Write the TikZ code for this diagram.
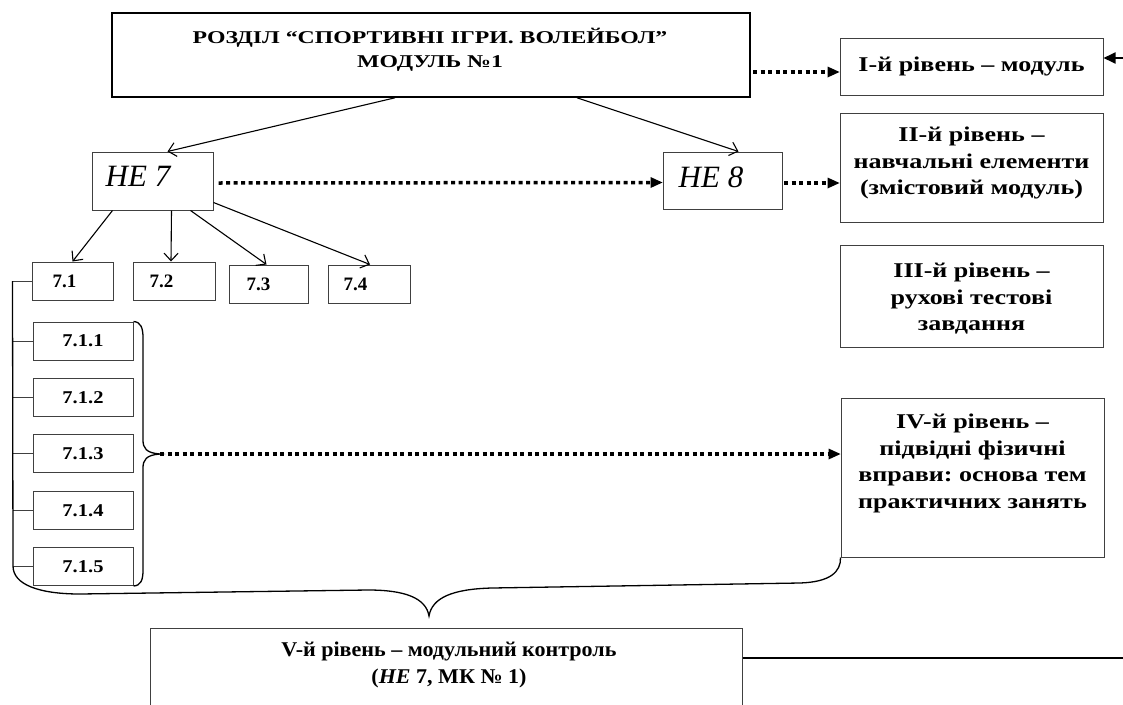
\documentclass[tikz,border=0pt]{standalone}
\usepackage{fontspec}
\setmainfont{Liberation Serif}
\newfontfamily\titlefont[FakeStretch=1.32]{Liberation Serif}
\newfontfamily\lvlfont[FakeStretch=1.24]{Liberation Serif}
\newfontfamily\numfont[FakeStretch=1.14]{Liberation Serif}
\newfontfamily\vfont[FakeStretch=1.05]{Liberation Serif}
\usetikzlibrary{arrows.meta}
\frenchspacing
\begin{document}
\begin{tikzpicture}[x=1pt,y=-1pt,
  box/.style={draw=black!75,line width=1pt,inner sep=0pt,minimum width=#1},
  lvl/.style={box=263,align=center,font=\lvlfont\fontsize{21}{26.5}\selectfont\bfseries},
  lvltxt/.style={align=center,anchor=north,inner sep=0pt,font=\lvlfont\fontsize{21}{26.5}\selectfont\bfseries},
  numbox/.style={box=#1,minimum height=38,font=\numfont\fontsize{18}{20}\selectfont\bfseries},
  numtxt/.style={font=\fontsize{19}{20}\selectfont\bfseries,inner sep=0pt,anchor=west},
  netxt/.style={font=\fontsize{31}{34}\selectfont\itshape,inner sep=0pt,anchor=west},
  dots/.style={line width=3.5pt,dash pattern=on 4pt off 3.5pt,-{Triangle[length=12pt,width=11pt,line width=0pt]}},
  thin/.style={line width=1.1pt,-{Straight Barb[length=7.5pt,width=14pt,line width=1.1pt]}},
]
\useasboundingbox (0,0) rectangle (1123,704);
% top box
\node[draw=black,line width=1.6pt,inner sep=0pt,minimum width=638,minimum height=84] (top) at (431,55) {};
\node[align=center,anchor=north,inner sep=0pt,font=\titlefont\fontsize{18}{23.5}\selectfont\bfseries] (toptxt) at (430,28) {РОЗДІЛ “СПОРТИВНІ ІГРИ. ВОЛЕЙБОЛ”\\МОДУЛЬ №1};
% level boxes
\node[lvl,minimum height=57] (b1) at (971.5,66.5) {І-й рівень – модуль};
\node[box=263,minimum height=109] (b2) at (971.5,167.5) {};
\node[lvltxt] (b2t) at (971.5,127) {ІІ-й рівень –\\навчальні елементи\\(змістовий модуль)};
\node[box=263,minimum height=102] (b3) at (971.5,296) {};
\node[lvltxt] (b3t) at (971.5,263) {ІІІ-й рівень –\\рухові тестові\\завдання};
\node[box=263,minimum height=159] (b4) at (972.5,477.5) {};
\node[lvltxt] (b4t) at (972.5,414) {ІV-й рівень –\\підвідні фізичні\\вправи: основа тем\\практичних занять};
% NE boxes
\node[box=121,minimum height=58] (ne7) at (152.5,181) {};
\node[netxt] (ne7t) at ([xshift=14pt,yshift=4.5pt]ne7.west) {НЕ 7};
\node[box=119,minimum height=57] (ne8) at (722.5,180.5) {};
\node[netxt] (ne8t) at ([xshift=16pt,yshift=3.5pt]ne8.west) {НЕ 8};
% second row
\node[numbox=81] (n71) at (72.5,281) {};
\node[numtxt] (n71t) at ([xshift=21pt]n71.west) {7.1};
\node[numbox=82] (n72) at (174,281) {};
\node[numtxt] (n72t) at ([xshift=17pt]n72.west) {7.2};
\node[numbox=79] (n73) at (268.5,284) {};
\node[numtxt] (n73t) at ([xshift=18pt]n73.west) {7.3};
\node[numbox=82] (n74) at (369,284) {};
\node[numtxt] (n74t) at ([xshift=16pt]n74.west) {7.4};
% sub boxes
\node[numbox=100] (s1) at (83,341) {7.1.1};
\node[numbox=100] (s2) at (83,397.5) {7.1.2};
\node[numbox=100] (s3) at (83,453.5) {7.1.3};
\node[numbox=100] (s4) at (83,510.5) {7.1.4};
\node[numbox=100] (s5) at (83,566.5) {7.1.5};
% box V
\node[box=592,minimum height=80,anchor=north] (b5) at (446,628) {};
\node[font=\vfont\fontsize{21}{27}\selectfont\bfseries,align=center,anchor=north,inner sep=0pt] (b5t) at (449,642) {V-й рівень – модульний контроль\\(\textit{НЕ} 7, МК № 1)};
% coordinates
\coordinate (r1) at (1123,58);
\coordinate (r5) at (1123,658);
\coordinate (a1) at (753,72);
\coordinate (a2) at (784,183);
\coordinate (bt) at (160,454);
% solid arrows
\draw[thin] ([xshift=-36pt]top.south) -- ([xshift=15pt]ne7.north);
\draw[thin] ([xshift=146pt]top.south) -- ([xshift=16pt]ne8.north);
\draw[thin] ([xshift=-40pt]ne7.south) -- ([xshift=0pt]n71.north);
\draw[thin] ([xshift=19pt]ne7.south) -- ([xshift=-3pt]n72.north);
\draw[thin] ([xshift=38pt]ne7.south) -- ([xshift=-2pt]n73.north);
\draw[thin] ([yshift=8pt]ne7.south east) -- ([xshift=1pt]n74.north);
% dotted arrows
\draw[dots] (a1) -- (b1.west |- a1);
\draw[dots] ([xshift=5pt,yshift=-2pt]ne7.east) -- ([yshift=-2pt]ne8.west);
\draw[dots] (a2) -- (b2.west |- a2);
\draw[dots] (bt) -- (b4.west |- bt);
% arrow into box I
\draw[line width=1.8pt,-{Triangle[length=12pt,width=11pt]}] (r1) -- (b1.east |- r1);
% line from box V
\draw[line width=1.8pt] (b5.east |- r5) -- (r5);
% left tree line
\draw[line width=1pt,draw=black!75] (n71.west) -- ++(-19,0) coordinate (tl);
\foreach \s in {s1,s2,s3,s4,s5} \draw[line width=1pt,draw=black!75] (\s.west) -- (tl |- \s.west);
% vertical brace
\draw[line width=1.3pt] (s1.north east) .. controls (141,322) and (143,328) .. (143,338) -- (143,440)
  .. controls (143,448) and (146,453) .. (bt) .. controls (146,455) and (143,460) .. (143,468)
  -- (143,570) .. controls (143,580) and (141,585.5) .. (s5.south east);
% bottom brace joined to the tree line
\draw[line width=1.3pt] (tl) -- (13,566) .. controls (13,585) and (40,594) .. (80,594) -- (368,590)
  .. controls (405,590) and (426,598) .. (429,616) .. controls (432,598) and (452,589) .. (492,588)
  -- (800,583) .. controls (830,582) and (841,572) .. (b4.south west);
\end{tikzpicture}
\end{document}
